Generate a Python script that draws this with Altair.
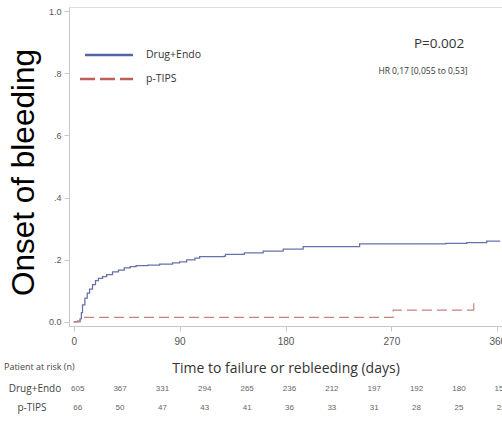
import altair as alt
import pandas as pd

# ---- data ----
drug_days = [0, 3, 5.5, 6.5, 7.5, 9.5, 11.5, 13.5, 16, 18.5, 21, 24.5, 28, 33, 38, 43, 48, 53,
             63, 73, 84, 90, 96, 103, 107, 128, 129, 145, 161, 178, 195, 218, 243, 316, 334, 351, 362]
drug_vals = [0, 0.003, 0.01, 0.03, 0.055, 0.077, 0.093, 0.106, 0.12, 0.133, 0.14, 0.146, 0.152,
             0.161, 0.167, 0.174, 0.178, 0.181, 0.183, 0.186, 0.19, 0.193, 0.2, 0.205, 0.21, 0.212,
             0.217, 0.222, 0.228, 0.234, 0.242, 0.242, 0.251, 0.253, 0.255, 0.26, 0.261]
tips_days = [0, 5.5, 271, 271.5, 340]
tips_vals = [0, 0.015, 0.015, 0.038, 0.038]
censor_day = [340]
censor_low = [0.038]
censor_high = [0.06]

groups = ["Drug+Endo", "p-TIPS"]
colors = ["#5563a8", "#bf5f59"]
curve_colors = ["#6670aa", "#c7827c"]
risk_days = [0, 36, 72, 108, 144, 180, 216, 252, 288, 324, 360]
risk_drug = [605, 367, 331, 294, 265, 236, 212, 197, 192, 180, 152]
risk_tips = [66, 50, 47, 43, 41, 36, 33, 31, 28, 25, 22]
x_ticks = [0, 90, 180, 270, 360]
y_ticks = [0, 0.2, 0.4, 0.6, 0.8, 1.0]

curves = pd.DataFrame(
    [{"day": d, "value": v, "group": groups[0]} for d, v in zip(drug_days, drug_vals)]
    + [{"day": d, "value": v, "group": groups[1]} for d, v in zip(tips_days, tips_vals)]
)
censor = pd.DataFrame({"day": censor_day, "lo": censor_low, "hi": censor_high})
risk = pd.DataFrame({"day": risk_days, "drug": risk_drug, "tips": risk_tips})
one = pd.DataFrame({"a": [0]})

X_DOMAIN = [-4, 364]
Y_DOMAIN = [-0.013, 1.013]

xenc = alt.X("day:Q", scale=alt.Scale(domain=X_DOMAIN, nice=False, zero=False),
             axis=alt.Axis(values=x_ticks, title="Time to failure or rebleeding (days)",
                           grid=False, domainColor="#c8c8c8", tickColor="#c8c8c8", tickSize=5,
                           labelColor="#555", labelFontSize=10, labelFont="Liberation Sans",
                           labelPadding=5, titleFont="Open Sans", titleFontSize=14,
                           titleFontWeight="normal", titleColor="#333", titlePadding=15))
yenc = alt.Y("value:Q", scale=alt.Scale(domain=Y_DOMAIN, nice=False, zero=False),
             axis=alt.Axis(values=y_ticks, title="Onset of bleeding", grid=False,
                           labelExpr="datum.value == 0 ? '0.0' : datum.value == 1 ? '1.0' : '.' + round(datum.value*10)",
                           domainColor="#c8c8c8", tickColor="#c8c8c8", tickSize=5,
                           labelColor="#555", labelFontSize=9, labelFont="Liberation Sans",
                           labelPadding=3, titleFont="Liberation Sans", titleFontSize=31.5,
                           titleFontWeight="normal", titleColor="#000", titlePadding=8,
                           titleY=165))

lines = alt.Chart(curves).mark_line(interpolate="step-after", strokeWidth=1.25).encode(
    x=xenc, y=yenc,
    color=alt.Color("group:N", scale=alt.Scale(domain=groups, range=curve_colors), legend=None),
    strokeDash=alt.StrokeDash("group:N", scale=alt.Scale(domain=groups, range=[[1, 0], [10, 5]]),
                              legend=None),
)

cens = alt.Chart(censor).mark_rule(color=curve_colors[1], strokeWidth=1.2).encode(
    x="day:Q", y="lo:Q", y2="hi:Q")

# manual legend
leg1 = alt.Chart(one).mark_rule(color=colors[0], strokeWidth=2.6).encode(
    x=alt.value(16), x2=alt.value(64), y=alt.value(48))
leg2 = alt.Chart(one).mark_rule(color=colors[1], strokeWidth=2.6, strokeDash=[15, 5]).encode(
    x=alt.value(11), x2=alt.value(64), y=alt.value(72))
leg1t = alt.Chart(one).mark_text(text=groups[0], font="Open Sans", fontSize=10.5, color="#333",
                                 align="left", baseline="middle").encode(
    x=alt.value(77), y=alt.value(48))
leg2t = alt.Chart(one).mark_text(text=groups[1], font="Open Sans", fontSize=10.5, color="#333",
                                 align="left", baseline="middle").encode(
    x=alt.value(77), y=alt.value(72))

p_text = alt.Chart(one).mark_text(text="P=0.002", font="Open Sans", fontSize=13.5,
                                  color="#333", align="center", baseline="middle").encode(
    x=alt.value(370), y=alt.value(37))
hr_text = alt.Chart(one).mark_text(text="HR 0,17 [0,055 to 0,53]", font="Open Sans", fontSize=8.5,
                                   color="#333", align="center", baseline="middle").encode(
    x=alt.value(354), y=alt.value(64))

risk_title = alt.Chart(one).mark_text(text="Patient at risk (n)", font="Open Sans", fontSize=9,
                                      color="#444", align="left", baseline="middle").encode(
    x=alt.value(-65), y=alt.value(360))
row1 = alt.Chart(one).mark_text(text="Drug+Endo", font="Open Sans", fontSize=10,
                                color="#444", align="center", baseline="middle").encode(
    x=alt.value(-34), y=alt.value(382))
row2 = alt.Chart(one).mark_text(text="p-TIPS", font="Open Sans", fontSize=10,
                                color="#444", align="center", baseline="middle").encode(
    x=alt.value(-37), y=alt.value(401))
nums1 = alt.Chart(risk).mark_text(font="Liberation Sans", fontSize=8, color="#666",
                                  align="center", baseline="middle", dx=4).encode(
    x="day:Q", y=alt.value(382), text="drug:Q")
nums2 = alt.Chart(risk).mark_text(font="Liberation Sans", fontSize=8, color="#666",
                                  align="center", baseline="middle", dx=4).encode(
    x="day:Q", y=alt.value(401), text="tips:Q")

chart = alt.layer(lines, cens, leg1, leg2, leg1t, leg2t, p_text, hr_text,
                  risk_title, row1, row2, nums1, nums2).properties(
    width=433, height=319,
    autosize=alt.AutoSizeParams(type="none"),
    padding={"left": 69, "top": 7, "right": 0, "bottom": 97},
).configure_view(stroke="#d8d8d8", strokeWidth=1).configure(background="white")

chart.save("out.html", embed_options={"renderer": "svg", "actions": False})
